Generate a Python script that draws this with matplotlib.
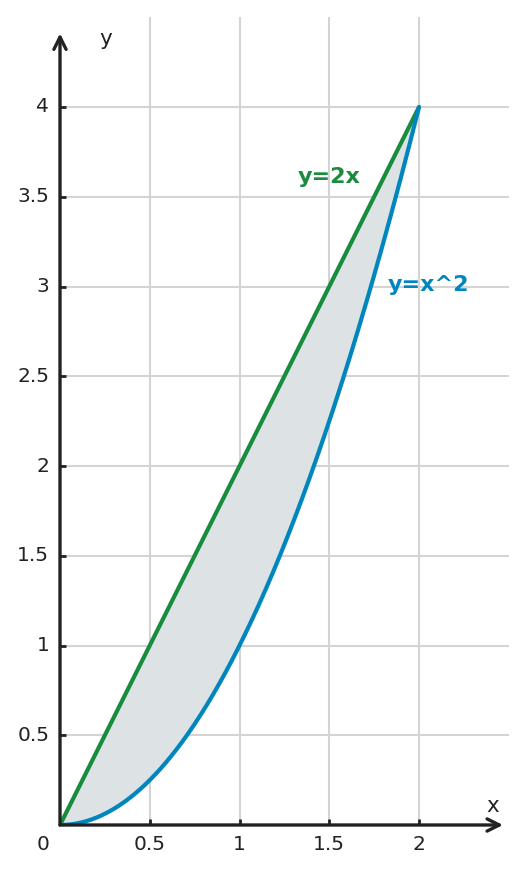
import numpy as np
import matplotlib
matplotlib.use("Agg")
import matplotlib.pyplot as plt

# Data
x_ticks = [0.5, 1, 1.5, 2]
x_tick_labels = ["0.5", "1", "1.5", "2"]
y_ticks = [0.5, 1, 1.5, 2, 2.5, 3, 3.5, 4]
y_tick_labels = ["0.5", "1", "1.5", "2", "2.5", "3", "3.5", "4"]
x_start, x_end = 0.0, 2.0
curve_labels = ["y=2x", "y=x^2"]

green = "#1a8c3e"
blue = "#0086bf"
fill_col = "#dde2e4"
dark = "#222222"

fig = plt.figure(figsize=(5.26, 8.74), dpi=100)
ax = fig.add_axes([60/526, 49/874, 448.75/526, 807.75/874])
ax.set_xlim(0, 2.5)
ax.set_ylim(0, 4.5)

xs = np.linspace(x_start, x_end, 400)
y_line = 2 * xs
y_par = xs ** 2

ax.fill_between(xs, y_par, y_line, color=fill_col, zorder=2, lw=0)
ax.plot(xs, y_line, color=green, lw=3, zorder=4, solid_capstyle="round")
ax.plot(xs, y_par, color=blue, lw=3, zorder=4, solid_capstyle="round")

for s in ax.spines.values():
    s.set_visible(False)

ax.set_xticks(x_ticks)
ax.set_yticks(y_ticks)
ax.set_xticklabels([])
ax.set_yticklabels([])
ax.tick_params(axis="both", direction="in", length=4, width=2, color=dark)
ax.grid(True, color="#d4d4d4", lw=1.5, zorder=0)
ax.set_axisbelow(True)

# axes with arrows
ax.annotate("", xy=(2.468, 0), xytext=(0, 0),
            arrowprops=dict(arrowstyle="->", lw=2.4, color=dark, mutation_scale=22,
                            shrinkA=0, shrinkB=0), zorder=5)
ax.annotate("", xy=(0, 4.41), xytext=(0, 0),
            arrowprops=dict(arrowstyle="->", lw=2.4, color=dark, mutation_scale=22,
                            shrinkA=0, shrinkB=0), zorder=5)

fs = 14.5
# tick labels as text
for t, lab in zip(x_ticks, x_tick_labels):
    ax.text(t, -0.11, lab, ha="center", va="center", fontsize=fs, color=dark,
            clip_on=False)
for t, lab in zip(y_ticks, y_tick_labels):
    ax.text(-0.06, t, lab, ha="right", va="center", fontsize=fs, color=dark,
            clip_on=False)
ax.text(-0.095, -0.11, "0", ha="center", va="center", fontsize=fs, color=dark,
        clip_on=False)

ax.text(2.41, 0.105, "x", ha="center", va="center", fontsize=15.5, color=dark)
ax.text(0.255, 4.38, "y", ha="center", va="center", fontsize=15.5, color=dark)

ax.text(1.5, 3.61, curve_labels[0], ha="center", va="center", fontsize=16,
        fontweight="bold", color=green)
ax.text(2.055, 3.01, curve_labels[1], ha="center", va="center", fontsize=16,
        fontweight="bold", color=blue)

fig.savefig("out.png", dpi=100)
